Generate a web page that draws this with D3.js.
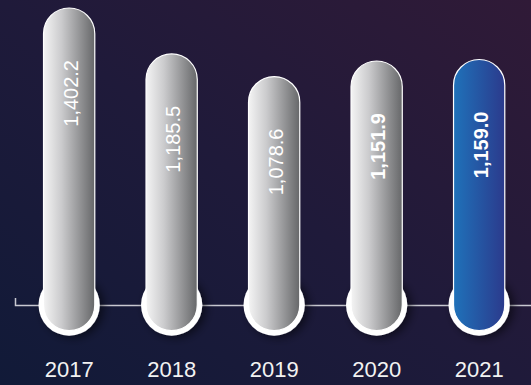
<!DOCTYPE html>
<html>
<head>
<meta charset="utf-8">
<script src="https://cdn.jsdelivr.net/npm/d3@7"></script>
<style>
  html, body { margin: 0; padding: 0; background: #1a1a38; }
  svg { display: block; }
</style>
</head>
<body>
<svg id="chart" width="531" height="385"></svg>
<script>
// Yearly totals
const years = ["2017", "2018", "2019", "2020", "2021"];
const values = [1402.2, 1185.5, 1078.6, 1151.9, 1159.0];
const boldLabels = [false, false, false, true, true];
const highlighted = [false, false, false, false, true];

const W = 531, H = 385;
const baseY = 305;
const svg = d3.select("#chart");
const defs = svg.append("defs");

// Background wash
const bg = defs.append("linearGradient").attr("id", "bg")
  .attr("x1", 0).attr("y1", 1).attr("x2", 1).attr("y2", 0);
bg.append("stop").attr("offset", 0).attr("stop-color", "#111a38");
bg.append("stop").attr("offset", 0.5).attr("stop-color", "#1f1a3a");
bg.append("stop").attr("offset", 1).attr("stop-color", "#301a37");
svg.append("rect").attr("width", W).attr("height", H).attr("fill", "url(#bg)");

// Bar fills
const grey = defs.append("linearGradient").attr("id", "grey")
  .attr("x1", 0).attr("y1", 0).attr("x2", 1).attr("y2", 0);
grey.append("stop").attr("offset", 0).attr("stop-color", "#f4f4f4");
grey.append("stop").attr("offset", 0.35).attr("stop-color", "#cbcbcd");
grey.append("stop").attr("offset", 1).attr("stop-color", "#666769");

const blue = defs.append("linearGradient").attr("id", "blue")
  .attr("x1", 0).attr("y1", 0).attr("x2", 1).attr("y2", 0);
blue.append("stop").attr("offset", 0).attr("stop-color", "#1f72ba");
blue.append("stop").attr("offset", 1).attr("stop-color", "#2b3a8c");

const shadow = defs.append("filter").attr("id", "shadow")
  .attr("x", "-50%").attr("y", "-50%").attr("width", "200%").attr("height", "200%");
shadow.append("feDropShadow").attr("dx", 4).attr("dy", 2)
  .attr("stdDeviation", 5).attr("flood-color", "#000").attr("flood-opacity", 0.55);

// Scales
const x = d3.scaleBand().domain(years)
  .range([17.9, 530.4]).paddingInner(0.5).paddingOuter(0.25);
const y = d3.scaleLinear().domain([0, 1402.2]).range([baseY, 8]);

// Baseline with a short end tick
const lineScale = d3.scaleLinear().domain([0, 1]).range([15, 540]);
svg.append("g").attr("transform", `translate(0,${baseY})`)
  .call(d3.axisTop(lineScale).tickValues([]).tickSizeOuter(7))
  .call(g => g.select(".domain").attr("stroke", "#c9c9d2").attr("stroke-width", 1.5));

// Year labels
svg.append("g").attr("transform", `translate(0,${baseY})`)
  .call(d3.axisBottom(x).tickSize(0).tickPadding(56))
  .call(g => g.select(".domain").remove())
  .call(g => g.selectAll("text")
    .attr("fill", "#f2f2f2")
    .attr("font-family", "'Liberation Sans', Arial, Helvetica, sans-serif")
    .attr("font-size", 22));

// Capsule bars
const r = x.bandwidth() / 2;
const data = years.map((yr, i) => ({ yr, v: values[i], bold: boldLabels[i], hi: highlighted[i] }));

const bars = svg.append("g").selectAll("g").data(data).join("g")
  .attr("transform", d => `translate(${x(d.yr) + r},0)`);

bars.append("circle")
  .attr("cy", baseY).attr("r", r + 5)
  .attr("fill", "#ffffff")
  .attr("filter", "url(#shadow)");

bars.append("path")
  .attr("d", d => {
    const top = y(d.v);
    const p = d3.path();
    p.moveTo(-r, top + r);
    p.arc(0, top + r, r, Math.PI, 0);
    p.lineTo(r, baseY);
    p.arc(0, baseY, r, 0, Math.PI);
    p.closePath();
    return p.toString();
  })
  .attr("fill", d => d.hi ? "url(#blue)" : "url(#grey)")
  .attr("stroke", "#ffffff")
  .attr("stroke-width", 1.2);

// Value labels, written up the bar
bars.append("text")
  .attr("transform", d => `translate(1.5,${y(d.v) + 52}) rotate(-90)`)
  .attr("text-anchor", "end")
  .attr("dy", "0.36em")
  .attr("fill", "#ffffff")
  .attr("font-family", "'Liberation Sans', Arial, Helvetica, sans-serif")
  .attr("font-size", 20)
  .attr("font-weight", d => d.bold ? "bold" : "normal")
  .text(d => d3.format(",.1f")(d.v));
</script>
</body>
</html>
